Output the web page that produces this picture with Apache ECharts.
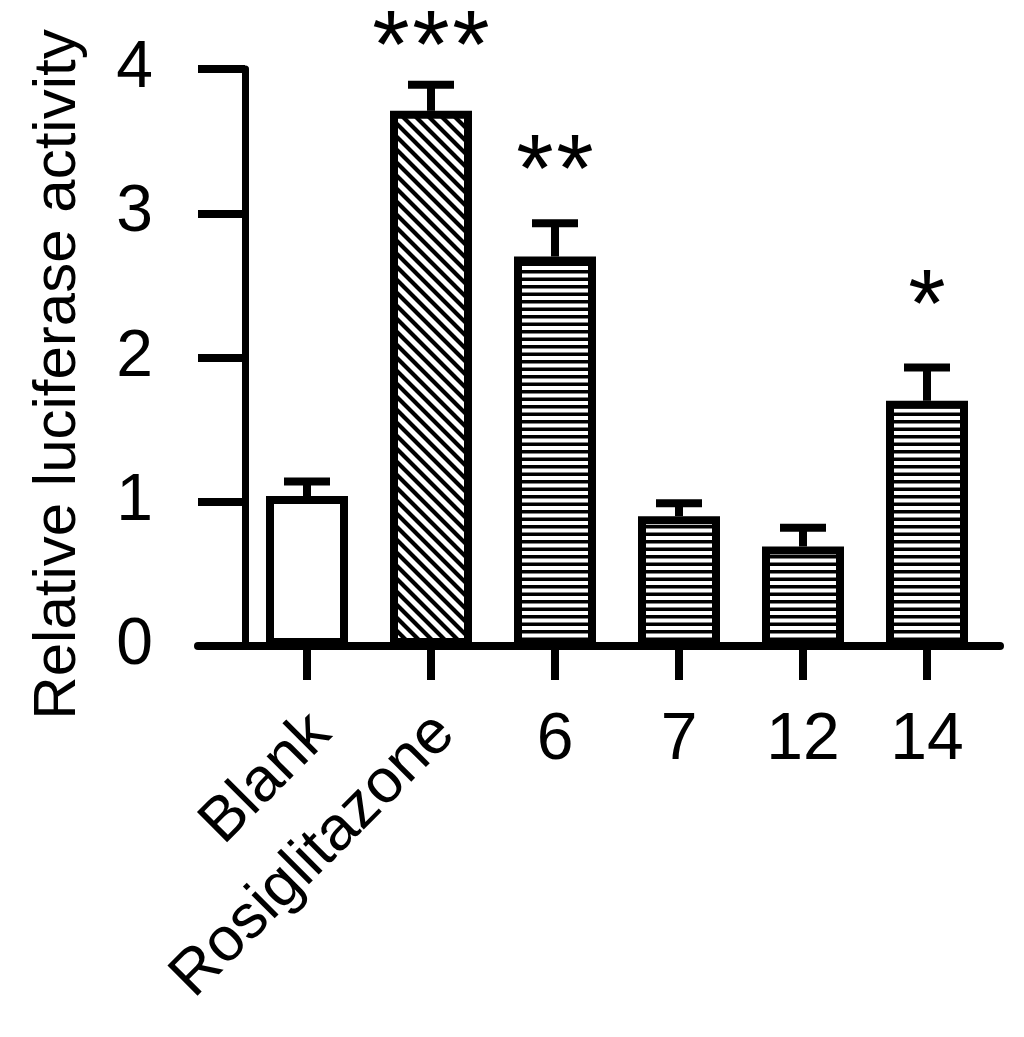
<!DOCTYPE html>
<html>
<head>
<meta charset="utf-8">
<script src="https://cdn.jsdelivr.net/npm/echarts@6/dist/echarts.min.js"></script>
<style>
	html, body { margin: 0; padding: 0; background: #fff; }
	#main { width: 1024px; height: 1037px; }
</style>
</head>
<body>
<div id="main"></div>
<script>
	// data
	var categories = ['Blank', 'Rosiglitazone', '6', '7', '12', '14'];
	var means = [1.04, 3.71, 2.70, 0.90, 0.69, 1.70];
	var errors = [0.10, 0.18, 0.23, 0.09, 0.13, 0.23];
	var stars = ['', '***', '**', '', '', '*'];
	var starLevels = [null, 4.25, 3.39, null, null, 2.45];
	var yTicks = [0, 1, 2, 3, 4];

	var FONT = '"Liberation Sans", Arial, sans-serif';
	var STAR_SIZE = 96;

	// hatch fills
	function horizontalHatch() {
		var c = document.createElement('canvas');
		c.width = 8; c.height = 15;
		var g = c.getContext('2d');
		g.fillStyle = '#fff'; g.fillRect(0, 0, 8, 15);
		g.fillStyle = '#000';
		g.fillRect(0, 0, 8, 3.5);
		g.fillRect(0, 7.5, 8, 3.5);
		return c;
	}
	function diagonalHatch() {
		var c = document.createElement('canvas');
		c.width = 13; c.height = 13;
		var g = c.getContext('2d');
		g.fillStyle = '#fff'; g.fillRect(0, 0, 13, 13);
		g.strokeStyle = '#000';
		g.lineWidth = 4.2;
		g.beginPath();
		g.moveTo(-3, -3); g.lineTo(16, 16);
		g.moveTo(-3, 10); g.lineTo(3, 16);
		g.moveTo(10, -3); g.lineTo(16, 3);
		g.stroke();
		return c;
	}
	var horiz = { image: horizontalHatch(), repeat: 'repeat' };
	var diag = { image: diagonalHatch(), repeat: 'repeat' };

	var barData = means.map(function (v, i) {
		var fill = i === 0 ? '#fff' : (i === 1 ? diag : horiz);
		return { value: v, itemStyle: { color: fill } };
	});
	var errData = means.map(function (v, i) { return [i, v, errors[i]]; });
	var starData = starLevels.map(function (v, i) { return [i, v == null ? 0 : v]; });

	var option = {
		backgroundColor: '#fff',
		animation: false,
		textStyle: { fontFamily: FONT, color: '#000' },
		grid: [
			{ left: 245, right: 35, top: 69, bottom: 391 },
			{ left: 198, right: 24, top: 69, bottom: 391 },
			{ left: 259, right: 21, top: 69, bottom: 391 }
		],
		xAxis: [
			{
				gridIndex: 0,
				type: 'category',
				data: categories,
				axisLine: { show: false },
				axisTick: { show: true, alignWithLabel: true, length: 34, lineStyle: { color: '#000', width: 8 } },
				axisLabel: {
					interval: 0, margin: 62, fontSize: 66, color: '#000', fontFamily: FONT,
					formatter: function (v) { return v.length > 2 ? '' : v; }
				}
			},
			{
				// long x axis line, reaching past the y axis like the original
				gridIndex: 1,
				type: 'value',
				min: 0, max: 1,
				axisLine: { show: true, lineStyle: { color: '#000', width: 8 } },
				axisTick: { show: false },
				axisLabel: { show: false },
				splitLine: { show: false }
			},
			{
				// rotated labels for the long names
				gridIndex: 2,
				type: 'category',
				data: categories,
				axisLine: { show: false },
				axisTick: { show: false },
				axisLabel: {
					interval: 0, rotate: 45, margin: 78, fontSize: 62, color: '#000', fontFamily: FONT,
					formatter: function (v) { return v.length > 2 ? v : ''; }
				}
			}
		],
		yAxis: [
			{
				gridIndex: 0,
				type: 'value',
				min: yTicks[0],
				max: yTicks[yTicks.length - 1],
				interval: 1,
				name: 'Relative luciferase activity',
				nameLocation: 'middle',
				nameRotate: 90,
				nameGap: 157,
				nameTextStyle: { fontSize: 60, color: '#000', fontFamily: FONT, padding: [0, 34, 0, 0] },
				axisLine: { show: true, lineStyle: { color: '#000', width: 7 } },
				axisTick: { show: true, length: 47, lineStyle: { color: '#000', width: 8 } },
				axisLabel: { margin: 92, fontSize: 66, color: '#000', fontFamily: FONT, padding: [14, 0, 0, 0] },
				splitLine: { show: false }
			},
			{ gridIndex: 1, type: 'value', show: false },
			{ gridIndex: 2, type: 'value', show: false }
		],
		series: [
			{
				name: 'activity',
				type: 'bar',
				xAxisIndex: 0,
				yAxisIndex: 0,
				barWidth: 82,
				itemStyle: { borderColor: '#000', borderWidth: 8 },
				data: barData,
				z: 3
			},
			{
				name: 'error',
				type: 'custom',
				xAxisIndex: 0,
				yAxisIndex: 0,
				z: 4,
				renderItem: function (params, api) {
					var x = api.value(0), m = api.value(1), e = api.value(2);
					var p0 = api.coord([x, m]);
					var p1 = api.coord([x, m + e]);
					var st = { stroke: '#000', lineWidth: 8 };
					return {
						type: 'group',
						children: [
							{ type: 'line', shape: { x1: p0[0], y1: p0[1], x2: p1[0], y2: p1[1] }, style: st },
							{ type: 'line', shape: { x1: p1[0] - 23, y1: p1[1], x2: p1[0] + 23, y2: p1[1] }, style: st }
						]
					};
				},
				data: errData
			},
			{
				name: 'significance',
				type: 'custom',
				xAxisIndex: 0,
				yAxisIndex: 0,
				z: 5,
				renderItem: function (params, api) {
					var s = stars[params.dataIndex];
					if (!s) return null;
					var p = api.coord([api.value(0), api.value(1)]);
					var kids = [];
					for (var k = 0; k < s.length; k++) {
						var dx = (k - (s.length - 1) / 2) * 40;
						kids.push({
							type: 'text',
							x: p[0] + dx,
							// asterisk sits high in the em box, push it down to centre the glyph
							y: p[1] + STAR_SIZE * 0.18,
							style: {
								text: '*', fill: '#000', fontSize: STAR_SIZE, fontFamily: FONT,
								align: 'center', verticalAlign: 'middle'
							}
						});
					}
					return { type: 'group', children: kids };
				},
				data: starData
			}
		]
	};

	var chart = echarts.init(document.getElementById('main'));
	chart.setOption(option);
</script>
</body>
</html>
